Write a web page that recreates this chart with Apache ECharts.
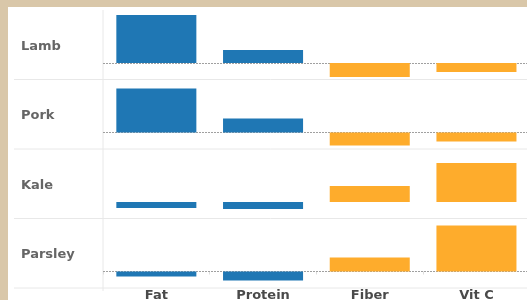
<!DOCTYPE html>
<html><head><meta charset="utf-8">
<script src="https://cdn.jsdelivr.net/npm/echarts@6/dist/echarts.min.js"></script>
<style>html,body{margin:0;padding:0;background:#fff;}#c{width:527px;height:300px;}</style>
</head><body><div id="c"></div>
<script>
var rows = ['Lamb', 'Pork', 'Kale', 'Parsley'];
var nutrients = ['Fat', 'Protein', 'Fiber', 'Vit C'];
var lamb = [48, 13, -14, -9];
var pork = [44, 14, -13, -9];
var kale = [-6, -7, 16, 39];
var parsley = [-5, -9, 14, 46];
var showZero = [true, true, false, true];

var values = [lamb, pork, kale, parsley];
var BLUE = '#1f77b4', ORANGE = '#feac2c';
var colorOf = function (i) { return i < 2 ? BLUE : ORANGE; };

var plotLeft = 103, colW = 106.7, top0 = 10, rowH = 69.5, yMax = 53, yMin = -16.5;
var grids = [], xAxes = [], yAxes = [], series = [], graphics = [];
rows.forEach(function (name, r) {
  var top = top0 + r * rowH;
  grids.push({ left: plotLeft, top: top, width: colW * nutrients.length, height: rowH,
    outerBoundsMode: 'none', containLabel: false });
  var last = r === rows.length - 1;
  xAxes.push({
    type: 'category', gridIndex: r, data: nutrients,
    axisLine: { show: false },
    axisTick: { show: last, length: 3, lineStyle: { color: '#ddd' } },
    axisLabel: { show: last, margin: 1, color: '#4a4a4a', fontSize: 13, fontWeight: 'bold', fontFamily: 'DejaVu Sans' }
  });
  yAxes.push({ type: 'value', gridIndex: r, min: yMin, max: yMax, show: false, splitLine: { show: false } });
  series.push({
    type: 'bar', xAxisIndex: r, yAxisIndex: r, barWidth: '75%',
    data: values[r].map(function (v, i) { return { value: v, itemStyle: { color: colorOf(i) } }; }),
    markLine: showZero[r] ? {
      silent: true, symbol: 'none', label: { show: false },
      lineStyle: { color: '#a0a0a0', type: [2, 1], width: 1 },
      data: [{ yAxis: 0 }], z: 1
    } : undefined
  });
  graphics.push({
    type: 'line', shape: { x1: 14, y1: top + rowH, x2: 527, y2: top + rowH },
    style: { stroke: '#e8e8e8', lineWidth: 1 }, z: 0
  });
  graphics.push({
    type: 'text', left: 21, top: top + rowH / 2 - 5,
    style: { text: name, fill: '#666', font: 'bold 13px "DejaVu Sans"' }
  });
});
graphics.push({ type: 'line', shape: { x1: plotLeft, y1: top0, x2: plotLeft, y2: 291 },
  style: { stroke: '#e8e8e8', lineWidth: 1 }, z: 0 });
graphics.push({ type: 'rect', shape: { x: 0, y: 0, width: 527, height: 7 }, style: { fill: '#d9c7a9' }, z: 100 });
graphics.push({ type: 'rect', shape: { x: 0, y: 0, width: 8, height: 300 }, style: { fill: '#d9c7a9' }, z: 100 });

var chart = echarts.init(document.getElementById('c'), null, { renderer: 'canvas' });
chart.setOption({
  animation: false,
  backgroundColor: '#fff',
  grid: grids, xAxis: xAxes, yAxis: yAxes, series: series, graphic: graphics
});
</script></body></html>
